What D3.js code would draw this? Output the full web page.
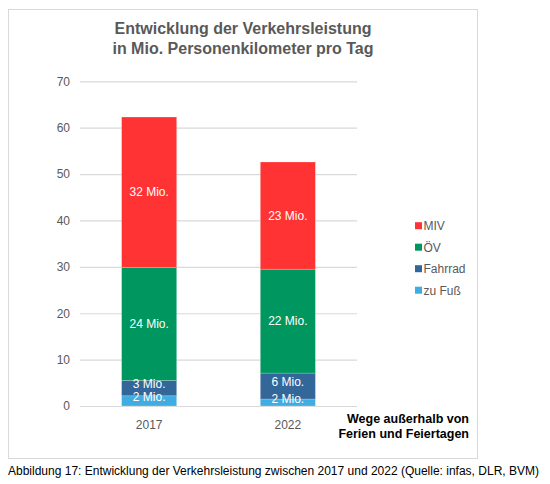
<!DOCTYPE html>
<html><head><meta charset="utf-8">
<script src="https://cdn.jsdelivr.net/npm/d3@7"></script>
<style>body{margin:0;background:#fff;} text{font-family:"Liberation Sans",Arial,sans-serif;}</style>
</head><body>
<svg id="c" width="550" height="484"></svg>
<script>
const years = ["2017", "2022"];
const series = ["zu Fuß", "Fahrrad", "ÖV", "MIV"];
const zuFuss = [2.2, 1.5];
const fahrrad = [3.3, 5.6];
const oev = [24.4, 22.4];
const miv = [32.4, 23.1];
const colors = ["#3fade2", "#336699", "#00965f", "#ff3333"];
const yTicks = [0, 10, 20, 30, 40, 50, 60, 70];
const titleLines = ["Entwicklung der Verkehrsleistung", "in Mio. Personenkilometer pro Tag"];
const noteLines = ["Wege außerhalb von", "Ferien und Feiertagen"];
const caption = "Abbildung 17: Entwicklung der Verkehrsleistung zwischen 2017 und 2022 (Quelle: infas, DLR, BVM)";

const svg = d3.select("#c");
const gray = "#595959";

// frame
svg.append("rect").attr("x", 8.5).attr("y", 9.5).attr("width", 469).attr("height", 449)
  .attr("fill", "#fff").attr("stroke", "#d9d9d9").attr("stroke-width", 1);

// title
svg.append("text").attr("x", 243).attr("y", 34).attr("text-anchor", "middle")
  .attr("font-size", 16).attr("font-weight", "bold").attr("fill", gray)
  .selectAll("tspan").data(titleLines).join("tspan")
  .attr("x", 243).attr("dy", (d, i) => i ? 19.5 : 0).text(d => d);

const x = d3.scaleBand().domain(years).range([80, 357]).paddingInner(0.603).paddingOuter(0.3);
const y = d3.scaleLinear().domain([0, 70]).range([406, 81.3]);

// gridlines
const yAxis = d3.axisLeft(y).tickValues(yTicks).tickSize(-(357 - 80)).tickPadding(10);
const gy = svg.append("g").attr("transform", "translate(80,0)").call(yAxis);
gy.select(".domain").remove();
gy.selectAll(".tick line").attr("stroke", "#d9d9d9").attr("stroke-width", 1.2);
gy.selectAll(".tick text").attr("font-size", 12).attr("fill", gray)
  .attr("font-family", "Liberation Sans, Arial, sans-serif").attr("x", -10);

// x axis labels
const xAxis = d3.axisBottom(x).tickSize(0).tickPadding(14);
const gx = svg.append("g").attr("transform", "translate(0,406)").call(xAxis);
gx.select(".domain").remove();
gx.selectAll(".tick text").attr("font-size", 12).attr("fill", gray)
  .attr("font-family", "Liberation Sans, Arial, sans-serif");

// stacked data
const table = years.map((yr, i) => ({year: yr, "zu Fuß": zuFuss[i], "Fahrrad": fahrrad[i], "ÖV": oev[i], "MIV": miv[i]}));
const stack = d3.stack().keys(series)(table);

const layers = svg.append("g").selectAll("g").data(stack).join("g")
  .attr("fill", (d, i) => colors[i]);
layers.selectAll("rect").data(d => d).join("rect")
  .attr("x", d => x(d.data.year)).attr("width", x.bandwidth())
  .attr("y", d => y(d[1])).attr("height", d => y(d[0]) - y(d[1]))
  .attr("stroke", "rgba(255,255,255,0.35)").attr("stroke-width", 0.6);

// data labels
const labels = svg.append("g");
stack.forEach(layer => {
  layer.forEach(d => {
    const h = y(d[0]) - y(d[1]);
    const mid = (y(d[0]) + y(d[1])) / 2 - (h < 30 ? 4 : 0);
    labels.append("text").attr("x", x(d.data.year) + x.bandwidth() / 2).attr("y", mid)
      .attr("dy", "0.35em").attr("text-anchor", "middle").attr("font-size", 12)
      .attr("fill", "#fff").text(Math.round(d[1] - d[0]) + " Mio.");
  });
});

// legend (MIV on top)
const legendItems = series.map((s, i) => ({name: s, color: colors[i]})).reverse();
const lg = svg.append("g").selectAll("g").data(legendItems).join("g")
  .attr("transform", (d, i) => `translate(415,${225.7 + i * 21.5})`);
lg.append("rect").attr("x", 0).attr("y", -3.5).attr("width", 7).attr("height", 7).attr("fill", d => d.color);
lg.append("text").attr("x", 8.5).attr("dy", "0.36em").attr("font-size", 12).attr("fill", gray).text(d => d.name);

// note
svg.append("text").attr("text-anchor", "end").attr("font-size", 12.5).attr("font-weight", "bold").attr("fill", "#000")
  .selectAll("tspan").data(noteLines).join("tspan")
  .attr("x", 469).attr("y", (d, i) => 423 + i * 14.5).text(d => d);

// caption
svg.append("text").attr("x", 8).attr("y", 475).attr("font-size", 12).attr("fill", "#000").text(caption);
</script>
</body></html>
